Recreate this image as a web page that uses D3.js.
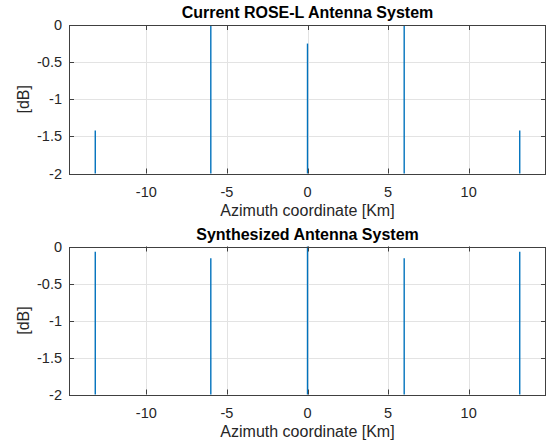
<!DOCTYPE html>
<html>
<head>
<meta charset="UTF-8">
<style>
    body { margin: 0; background: #fff; }
    text { font-family: "Liberation Sans", Arial, sans-serif; fill: #262626; }
    .grid line { stroke: #e3e3e3; stroke-width: 1; }
    .frame { fill: none; stroke: #404040; stroke-width: 1; }
    .tick-mark { stroke: #404040; stroke-width: 1; }
    .stem { stroke: #0072bd; stroke-width: 1.4; }
</style>
</head>
<body>
<script src="https://cdn.jsdelivr.net/npm/d3@7"></script>
<script>
// azimuth positions of the antenna peaks [Km]
var positions = [-13.17, -6, 0, 6, 13.17];
var currentDb = [-1.42, 0, -0.25, 0, -1.42];
var synthDb = [-0.07, -0.16, 0, -0.16, -0.07];
var xTicks = [-10, -5, 0, 5, 10];
var yTicks = [0, -0.5, -1, -1.5, -2];
var titles = ["Current ROSE-L Antenna System", "Synthesized Antenna System"];
var xLabel = "Azimuth coordinate [Km]";
var yLabel = "[dB]";

var width = 551, height = 447;
var svg = d3.select("body").append("svg").attr("width", width).attr("height", height);

var left = 69, right = 546;
var panels = [
    {top: 25, bottom: 173.5, values: currentDb, title: titles[0]},
    {top: 246.5, bottom: 394.5, values: synthDb, title: titles[1]}
];

var x = d3.scaleLinear().domain([-14.8, 14.8]).range([left, right]);

panels.forEach(function(p) {
    var y = d3.scaleLinear().domain([-2, 0]).range([p.bottom, p.top]);
    var g = svg.append("g");
    var tl = 5;

    // grid
    var grid = g.append("g").attr("class", "grid");
    grid.selectAll(".gx").data(xTicks).enter().append("line")
        .attr("x1", function(d) { return Math.round(x(d)) + 0.5; })
        .attr("x2", function(d) { return Math.round(x(d)) + 0.5; })
        .attr("y1", p.top).attr("y2", p.bottom);
    grid.selectAll(".gy").data(yTicks.slice(1, -1)).enter().append("line")
        .attr("y1", function(d) { return Math.round(y(d)) + 0.5; })
        .attr("y2", function(d) { return Math.round(y(d)) + 0.5; })
        .attr("x1", left).attr("x2", right);

    // stems
    g.selectAll(".stem").data(positions).enter().append("line")
        .attr("class", "stem")
        .attr("x1", function(d) { return x(d); })
        .attr("x2", function(d) { return x(d); })
        .attr("y1", y(-2))
        .attr("y2", function(d, i) { return y(p.values[i]); });

    // ticks (inside, mirrored)
    xTicks.forEach(function(t) {
        var xx = Math.round(x(t)) + 0.5;
        g.append("line").attr("class", "tick-mark").attr("x1", xx).attr("x2", xx)
            .attr("y1", p.bottom).attr("y2", p.bottom - tl);
        g.append("line").attr("class", "tick-mark").attr("x1", xx).attr("x2", xx)
            .attr("y1", p.top).attr("y2", p.top + tl);
        g.append("text").attr("x", x(t)).attr("y", p.bottom + 23)
            .attr("text-anchor", "middle").style("font-size", "14.5px").text(t);
    });
    yTicks.forEach(function(t) {
        var yy = Math.round(y(t)) + 0.5;
        g.append("line").attr("class", "tick-mark").attr("x1", left).attr("x2", left + tl)
            .attr("y1", yy).attr("y2", yy);
        g.append("line").attr("class", "tick-mark").attr("x1", right).attr("x2", right - tl)
            .attr("y1", yy).attr("y2", yy);
        g.append("text").attr("x", 62).attr("y", y(t) + 5)
            .attr("text-anchor", "end").style("font-size", "14.5px").text(t);
    });

    g.append("rect").attr("class", "frame")
        .attr("x", left + 0.5).attr("y", Math.round(p.top) + 0.5)
        .attr("width", right - left - 1).attr("height", Math.round(p.bottom - p.top));

    g.append("text").attr("x", (left + right) / 2).attr("y", p.top - 7)
        .attr("text-anchor", "middle").style("font-size", "16px").style("font-weight", "bold")
        .style("fill", "#000").text(p.title);
    g.append("text").attr("x", (left + right) / 2).attr("y", p.bottom + 42)
        .attr("text-anchor", "middle").style("font-size", "16px").text(xLabel);
    g.append("text").attr("transform", "translate(29," + ((p.top + p.bottom) / 2) + ") rotate(-90)")
        .attr("text-anchor", "middle").style("font-size", "16px").text(yLabel);
});
</script>
</body>
</html>
